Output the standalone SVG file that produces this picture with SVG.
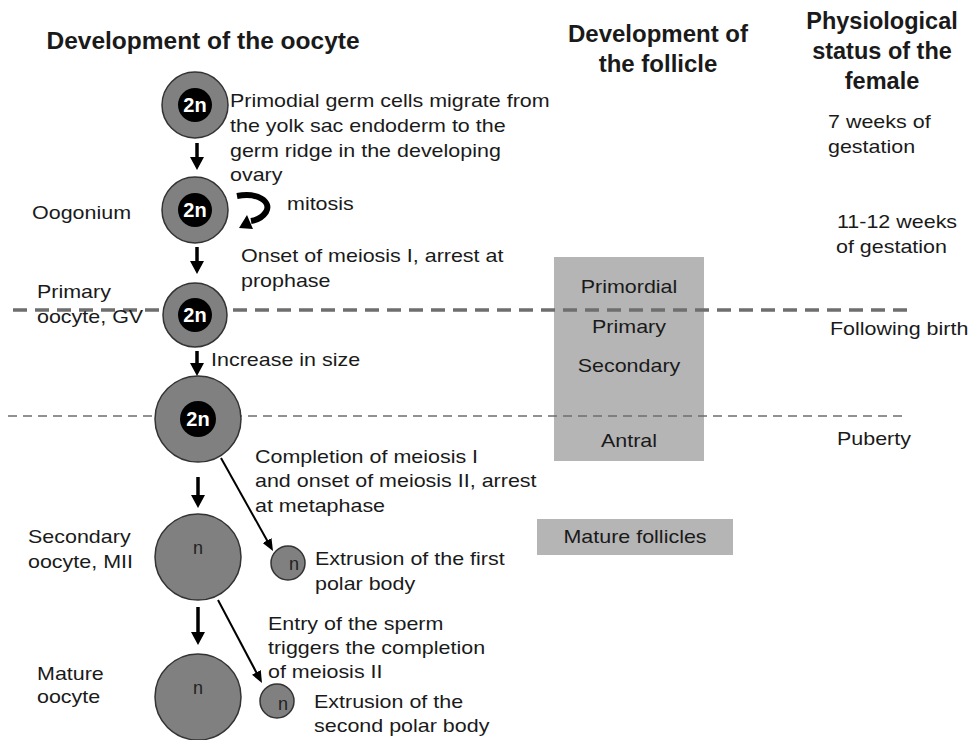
<svg xmlns="http://www.w3.org/2000/svg" width="970" height="740" viewBox="0 0 970 740">
<style>
 .h{font-family:"Liberation Sans",Arial,sans-serif;font-weight:bold;font-size:24px;fill:#1a1a1a;text-anchor:middle}
 .t{font-family:"Liberation Sans",Arial,sans-serif;font-size:19px;fill:#1a1a1a}
 .c{text-anchor:middle}
 .cell{fill:#808080;stroke:#333;stroke-width:1.5}
 .nuc{fill:#000}
 .n2{font-family:"Liberation Sans",Arial,sans-serif;font-weight:bold;font-size:20px;fill:#fff;text-anchor:middle}
 .n1{font-family:"Liberation Sans",Arial,sans-serif;font-size:18px;fill:#222;text-anchor:middle}
 .arr{stroke:#000;stroke-width:3.5;fill:none}
 .diag{stroke:#000;stroke-width:2;fill:none}
 .box{fill:#b5b5b5}
 .d1{stroke:#6e6e6e;stroke-width:3.5;stroke-dasharray:14 8;fill:none}
 .d2{stroke:#6e6e6e;stroke-width:1.5;stroke-dasharray:9 6;fill:none}
</style>
<defs>
 <marker id="ah" viewBox="0 0 13 14" refX="2" refY="7" markerWidth="13" markerHeight="14" markerUnits="userSpaceOnUse" orient="auto">
  <path d="M0,0 L13,7 L0,14 z" fill="#000"/>
 </marker>
 <marker id="ahs" viewBox="0 0 12 10" refX="2" refY="5" markerWidth="12" markerHeight="10" markerUnits="userSpaceOnUse" orient="auto">
  <path d="M0,0 L12,5 L0,10 z" fill="#000"/>
 </marker>
</defs>

<g id="headers">
 <text class="h" x="203" y="49" style="font-size:24.5px">Development of the oocyte</text>
 <text class="h" x="658" y="42">Development of</text>
 <text class="h" x="658" y="72">the follicle</text>
 <text class="h" x="882" y="29" style="font-size:23.5px">Physiological</text>
 <text class="h" x="882" y="59" style="font-size:23.5px">status of the</text>
 <text class="h" x="882" y="89" style="font-size:23.5px">female</text>
</g>

<g id="follicle-box">
 <rect class="box" x="554" y="257" width="150" height="204"/>
 <text class="t c" transform="translate(629,293) scale(1.13,1)">Primordial</text>
 <text class="t c" transform="translate(629,333) scale(1.13,1)">Primary</text>
 <text class="t c" transform="translate(629,372) scale(1.13,1)">Secondary</text>
 <text class="t c" transform="translate(629,447) scale(1.13,1)">Antral</text>
</g>
<g id="mature-follicles">
 <rect class="box" x="537" y="519" width="196" height="36"/>
 <text class="t c" transform="translate(635,543) scale(1.13,1)">Mature follicles</text>
</g>

<g id="stage-lines">
 <line class="d1" x1="13" y1="310" x2="910" y2="310"/>
 <line class="d2" x1="8" y1="416" x2="905" y2="416"/>
</g>

<g id="status">
 <text class="t" transform="translate(828,128) scale(1.13,1)"><tspan x="0">7 weeks of</tspan><tspan x="0" dy="25">gestation</tspan></text>
 <text class="t" transform="translate(837,228) scale(1.13,1)">11-12 weeks</text>
 <text class="t" transform="translate(836,253) scale(1.13,1)">of gestation</text>
 <text class="t" transform="translate(830,335) scale(1.13,1)">Following birth</text>
 <text class="t" transform="translate(837,445) scale(1.13,1)">Puberty</text>
</g>

<g id="stage-names">
 <text class="t" transform="translate(32,219) scale(1.13,1)">Oogonium</text>
 <text class="t" transform="translate(37,298) scale(1.13,1)"><tspan x="0">Primary</tspan><tspan x="0" dy="25">oocyte, GV</tspan></text>
 <text class="t" transform="translate(28,543) scale(1.13,1)"><tspan x="0">Secondary</tspan><tspan x="0" dy="25">oocyte, MII</tspan></text>
 <text class="t" transform="translate(37,680) scale(1.13,1)"><tspan x="0">Mature</tspan><tspan x="0" dy="23">oocyte</tspan></text>
</g>

<g id="annotations">
 <text class="t" transform="translate(230,107) scale(1.13,1)"><tspan x="0">Primodial germ cells migrate from</tspan><tspan x="0" dy="25">the yolk sac endoderm to the</tspan><tspan x="0" dy="25">germ ridge in the developing</tspan><tspan x="0" dy="24">ovary</tspan></text>
 <text class="t" transform="translate(287,210) scale(1.13,1)">mitosis</text>
 <text class="t" transform="translate(241,262) scale(1.13,1)"><tspan x="0">Onset of meiosis I, arrest at</tspan><tspan x="0" dy="25">prophase</tspan></text>
 <text class="t" transform="translate(211,366) scale(1.13,1)">Increase in size</text>
 <text class="t" transform="translate(255,463) scale(1.13,1)"><tspan x="0">Completion of meiosis I</tspan><tspan x="0" dy="24.5">and onset of meiosis II, arrest</tspan><tspan x="0" dy="24.5">at metaphase</tspan></text>
 <text class="t" transform="translate(315,565) scale(1.13,1)"><tspan x="0">Extrusion of the first</tspan><tspan x="0" dy="25">polar body</tspan></text>
 <text class="t" transform="translate(268,630) scale(1.13,1)"><tspan x="0">Entry of the sperm</tspan><tspan x="0" dy="24.5">triggers the completion</tspan><tspan x="0" dy="24">of meiosis II</tspan></text>
 <text class="t" transform="translate(314,708) scale(1.13,1)"><tspan x="0">Extrusion of the</tspan><tspan x="0" dy="24.5">second polar body</tspan></text>
</g>

<g id="cell-pgc">
 <circle class="cell" cx="195" cy="105" r="33"/>
 <circle class="nuc" cx="195" cy="105" r="17"/>
 <text class="n2" x="195" y="112">2n</text>
</g>
<g id="cell-oogonium">
 <circle class="cell" cx="195" cy="210" r="33"/>
 <circle class="nuc" cx="195" cy="210" r="17"/>
 <text class="n2" x="195" y="217">2n</text>
</g>
<g id="cell-primary-oocyte">
 <circle class="cell" cx="195" cy="315" r="32"/>
 <circle class="nuc" cx="195" cy="315" r="17"/>
 <text class="n2" x="195" y="322">2n</text>
</g>
<g id="cell-grown-oocyte">
 <circle class="cell" cx="198" cy="419" r="43"/>
 <circle class="nuc" cx="198" cy="419" r="18"/>
 <text class="n2" x="198" y="426">2n</text>
</g>
<g id="cell-secondary-oocyte">
 <circle class="cell" cx="198" cy="557" r="43"/>
 <text class="n1" x="198" y="554">n</text>
</g>
<g id="cell-mature-oocyte">
 <circle class="cell" cx="198" cy="697" r="43"/>
 <text class="n1" x="198" y="694">n</text>
</g>
<g id="polar-body-1">
 <circle class="cell" cx="288" cy="563" r="17"/>
 <text class="n1" x="294" y="570">n</text>
</g>
<g id="polar-body-2">
 <circle class="cell" cx="277" cy="701" r="17"/>
 <text class="n1" x="283" y="710">n</text>
</g>

<g id="connectors">
 <line class="arr" x1="197" y1="143" x2="197" y2="159" marker-end="url(#ah)"/>
 <line class="arr" x1="197" y1="247" x2="197" y2="263" marker-end="url(#ah)"/>
 <line class="arr" x1="197" y1="351" x2="197" y2="365" marker-end="url(#ah)"/>
 <line class="arr" x1="198" y1="477" x2="198" y2="497" marker-end="url(#ah)"/>
 <line class="arr" x1="198" y1="607" x2="198" y2="634" marker-end="url(#ah)"/>
 <line class="diag" x1="221" y1="458" x2="268.1" y2="542.3" marker-end="url(#ahs)"/>
 <line class="diag" x1="218" y1="600" x2="257.3" y2="674.2" marker-end="url(#ahs)"/>
 <path d="M237,196 C258,192 272,202 266,212 C262,218 257,220 251,221" stroke="#000" stroke-width="6" fill="none"/>
 <polygon points="239,228 247,215 253,229" fill="#000"/>
</g>
</svg>
